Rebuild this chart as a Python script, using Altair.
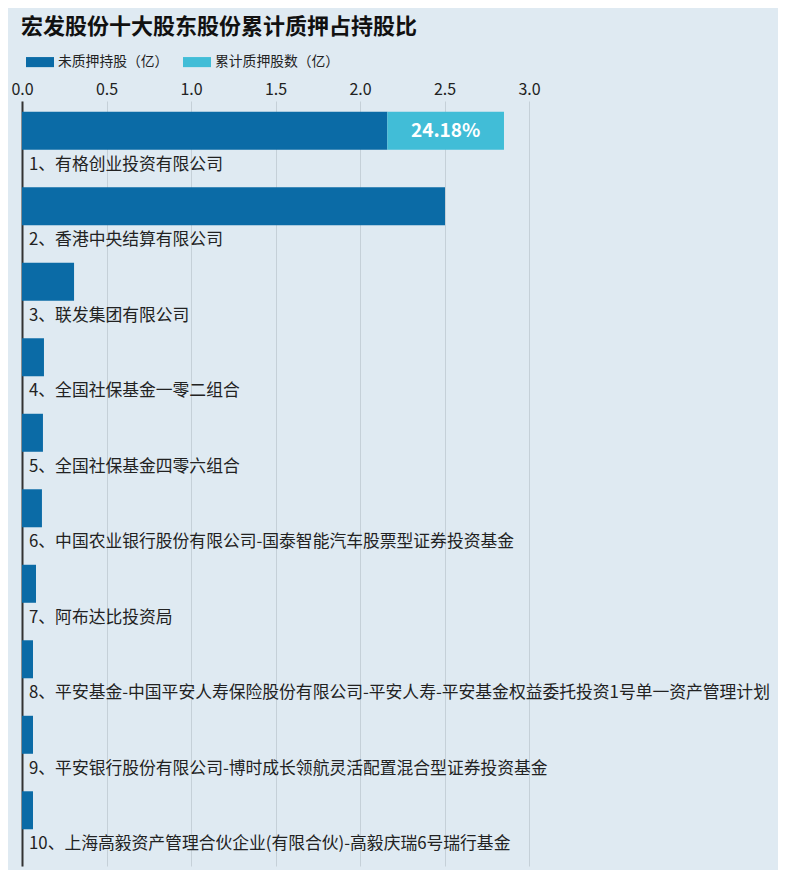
import altair as alt
import pandas as pd

holders = [
    "1、有格创业投资有限公司",
    "2、香港中央结算有限公司",
    "3、联发集团有限公司",
    "4、全国社保基金一零二组合",
    "5、全国社保基金四零六组合",
    "6、中国农业银行股份有限公司-国泰智能汽车股票型证券投资基金",
    "7、阿布达比投资局",
    "8、平安基金-中国平安人寿保险股份有限公司-平安人寿-平安基金权益委托投资1号单一资产管理计划",
    "9、平安银行股份有限公司-博时成长领航灵活配置混合型证券投资基金",
    "10、上海高毅资产管理合伙企业(有限合伙)-高毅庆瑞6号瑞行基金",
]
unpledged = [2.162, 2.503, 0.308, 0.130, 0.124, 0.118, 0.083, 0.065, 0.065, 0.065]
pledged = [0.690, 0, 0, 0, 0, 0, 0, 0, 0, 0]
ratio_labels = ["24.18%", "", "", "", "", "", "", "", "", ""]
series = ["未质押持股（亿）", "累计质押股数（亿）"]
colors = ["#0b6ba6", "#41bdd7"]

rows = []
for i, h in enumerate(holders):
    rows.append({"holder": h, "rank": i, "series": series[0], "value": unpledged[i], "ord": 0})
    rows.append({"holder": h, "rank": i, "series": series[1], "value": pledged[i], "ord": 1})
df = pd.DataFrame(rows)

lab = pd.DataFrame({
    "holder": holders,
    "rank": list(range(10)),
    "unpledged": unpledged,
    "pledged": pledged,
    "ratio": ratio_labels,
})
lab["mid"] = lab["unpledged"] + lab["pledged"] / 2

FONT = "Noto Sans CJK SC"
yscale = alt.Scale(domain=holders, paddingInner=0, paddingOuter=0.066, align=0)

bars = alt.Chart(df).mark_bar(height=38, yOffset=-8).encode(
    x=alt.X("value:Q", stack="zero",
            scale=alt.Scale(domain=[0, 3.0], nice=False),
            axis=alt.Axis(orient="top", title=None, format=".1f",
                          values=[0, 0.5, 1.0, 1.5, 2.0, 2.5, 3.0],
                          labelFontSize=16, labelColor="#222", labelFont=FONT,
                          labelFlush=False,
                          ticks=False, domain=False, labelPadding=4,
                          grid=True, gridColor="#c5d0d8", gridWidth=1)),
    y=alt.Y("holder:N", scale=yscale,
            axis=alt.Axis(title=None, labels=False, ticks=False, grid=False,
                          domain=True, domainColor="#333", domainWidth=2)),
    color=alt.Color("series:N", scale=alt.Scale(domain=series, range=colors),
                    legend=alt.Legend(title=None, orient="none", legendX=4, legendY=-53,
                                      direction="horizontal",
                                      symbolType="M-1,-0.36H1V0.36H-1Z",
                                      symbolSize=784, symbolStrokeWidth=0,
                                      labelFontSize=13.8, labelColor="#222", labelFont=FONT,
                                      columnPadding=14, labelOffset=4)),
    order=alt.Order("ord:Q"),
)

names = alt.Chart(lab).mark_text(align="left", baseline="middle", dy=26,
                                 fontSize=16.8, color="#222", font=FONT).encode(
    x=alt.value(7),
    y=alt.Y("holder:N", scale=yscale),
    text="holder:N",
)

ratios = alt.Chart(lab).transform_filter("datum.ratio != ''").mark_text(
    align="center", baseline="middle", dy=-8, fontSize=19, fontWeight="bold",
    color="white", font=FONT).encode(
    x=alt.X("mid:Q"),
    y=alt.Y("holder:N", scale=yscale),
    text="ratio:N",
)

chart = alt.layer(bars, names, ratios).properties(
    width=507, height=765,
    background="#dfeaf2",
    autosize=alt.AutoSizeParams(type="none"),
    padding={"left": 14, "top": 93, "right": 249, "bottom": 4},
    title=alt.TitleParams("宏发股份十大股东股份累计质押占持股比", anchor="start",
                          fontSize=22, fontWeight="bold", color="#111", font=FONT,
                          offset=9, dx=10),
).configure_view(stroke=None)

chart.save("out.html", embed_options={"renderer": "svg", "actions": False})
